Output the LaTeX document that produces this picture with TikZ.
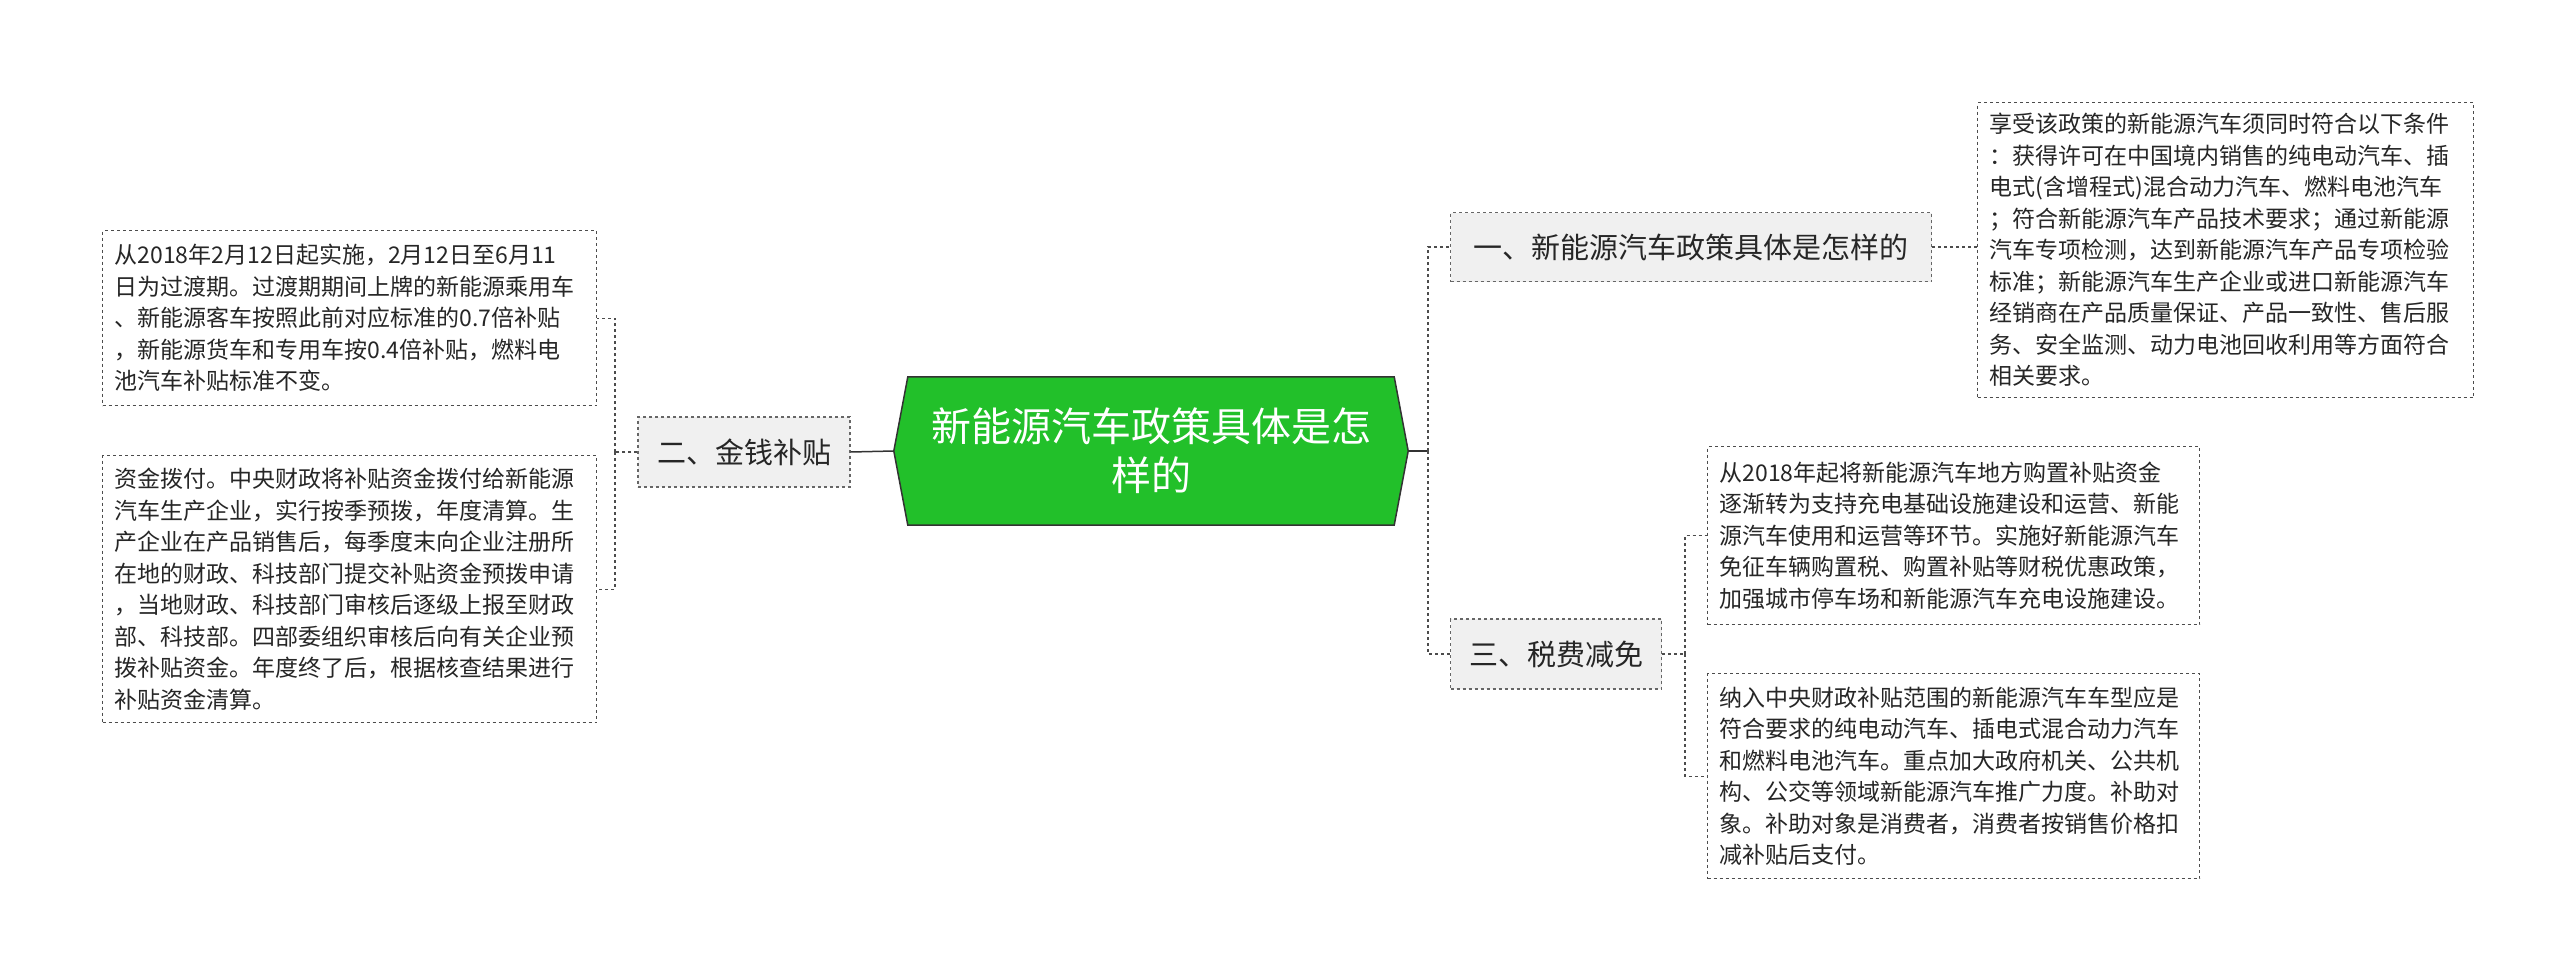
\documentclass[tikz,border=0pt]{standalone}
\usepackage{fontspec}
\setmainfont{Noto Sans CJK SC}
\begin{document}
\begin{tikzpicture}[x=1pt,y=-1pt,
  leaf/.style={draw=black!70,dashed,line width=1.3pt,fill=white,inner xsep=12pt,align=left,anchor=north west,
    font=\fontsize{23}{31.5}\selectfont,text=black!85},
  branch/.style={draw=black!60,dashed,line width=1.3pt,fill=gray!12,font=\fontsize{29}{36}\selectfont,text=black!85},
  conn/.style={draw=black!70,dashed,line width=1.3pt}]
\useasboundingbox (0,0) rectangle (2560,974);
% center
\node[minimum width=514pt,minimum height=148pt,inner sep=0pt] (c) at (1151,451) {};
\draw[fill=green!70!black!80!lime,fill={rgb,255:red,34;green,192;blue,42},draw=black!80,line width=1.5pt]
  (c.west) -- ([xshift=14pt]c.north west) -- ([xshift=-14pt]c.north east) -- (c.east)
  -- ([xshift=-14pt]c.south east) -- ([xshift=14pt]c.south west) -- cycle;
\node[text=white,align=center,font=\fontsize{40}{49}\selectfont] at (c) {新能源汽车政策具体是怎\\样的};
% branches
\node[branch,minimum width=481pt,minimum height=69pt] (b1) at (1691,247) {一、新能源汽车政策具体是怎样的};
\node[branch,minimum width=212pt,minimum height=70pt] (b2) at (744,452) {二、金钱补贴};
\node[branch,minimum width=211pt,minimum height=70pt] (b3) at (1556,654) {三、税费减免};
% leaves
\node[leaf,text width=472pt,minimum height=295pt] (r1) at (1977,102) {享受该政策的新能源汽车须同时符合以下条件\\：获得许可在中国境内销售的纯电动汽车、插\\电式(含增程式)混合动力汽车、燃料电池汽车\\；符合新能源汽车产品技术要求；通过新能源\\汽车专项检测，达到新能源汽车产品专项检验\\标准；新能源汽车生产企业或进口新能源汽车\\经销商在产品质量保证、产品一致性、售后服\\务、安全监测、动力电池回收利用等方面符合\\相关要求。};
\node[leaf,text width=470pt,minimum height=175pt] (l1) at (102,230) {从2018年2月12日起实施，2月12日至6月11\\日为过渡期。过渡期期间上牌的新能源乘用车\\、新能源客车按照此前对应标准的0.7倍补贴\\，新能源货车和专用车按0.4倍补贴，燃料电\\池汽车补贴标准不变。};
\node[leaf,text width=470pt,minimum height=267pt] (l2) at (102,455) {资金拨付。中央财政将补贴资金拨付给新能源\\汽车生产企业，实行按季预拨，年度清算。生\\产企业在产品销售后，每季度末向企业注册所\\在地的财政、科技部门提交补贴资金预拨申请\\，当地财政、科技部门审核后逐级上报至财政\\部、科技部。四部委组织审核后向有关企业预\\拨补贴资金。年度终了后，根据核查结果进行\\补贴资金清算。};
\node[leaf,text width=468pt,minimum height=178pt] (r2) at (1707,446) {从2018年起将新能源汽车地方购置补贴资金\\逐渐转为支持充电基础设施建设和运营、新能\\源汽车使用和运营等环节。实施好新能源汽车\\免征车辆购置税、购置补贴等财税优惠政策，\\加强城市停车场和新能源汽车充电设施建设。};
\node[leaf,text width=468pt,minimum height=205pt] (r3) at (1707,673) {纳入中央财政补贴范围的新能源汽车车型应是\\符合要求的纯电动汽车、插电式混合动力汽车\\和燃料电池汽车。重点加大政府机关、公共机\\构、公交等领域新能源汽车推广力度。补助对\\象。补助对象是消费者，消费者按销售价格扣\\减补贴后支付。};
% connectors
\coordinate (sR) at (1428,451);
\coordinate (sL) at (615,452);
\coordinate (s3) at (1685,654);
\draw[draw=black!80,line width=1.5pt] (c.east) -- (sR);
\draw[draw=black!80,line width=1.5pt] (c.west) -- (b2.east);
\draw[conn] (sR) |- (b1.west);
\draw[conn] (sR) |- (b3.west);
\draw[conn] (b1.east) -- (r1.west |- b1.east);
\draw[conn] (b2.west) -- (sL);
\draw[conn] (sL) |- (l1.east);
\draw[conn] (sL) |- (l2.east);
\draw[conn] (b3.east) -- (s3);
\draw[conn] (s3) |- (r2.west);
\draw[conn] (s3) |- (r3.west);
\end{tikzpicture}
\end{document}
